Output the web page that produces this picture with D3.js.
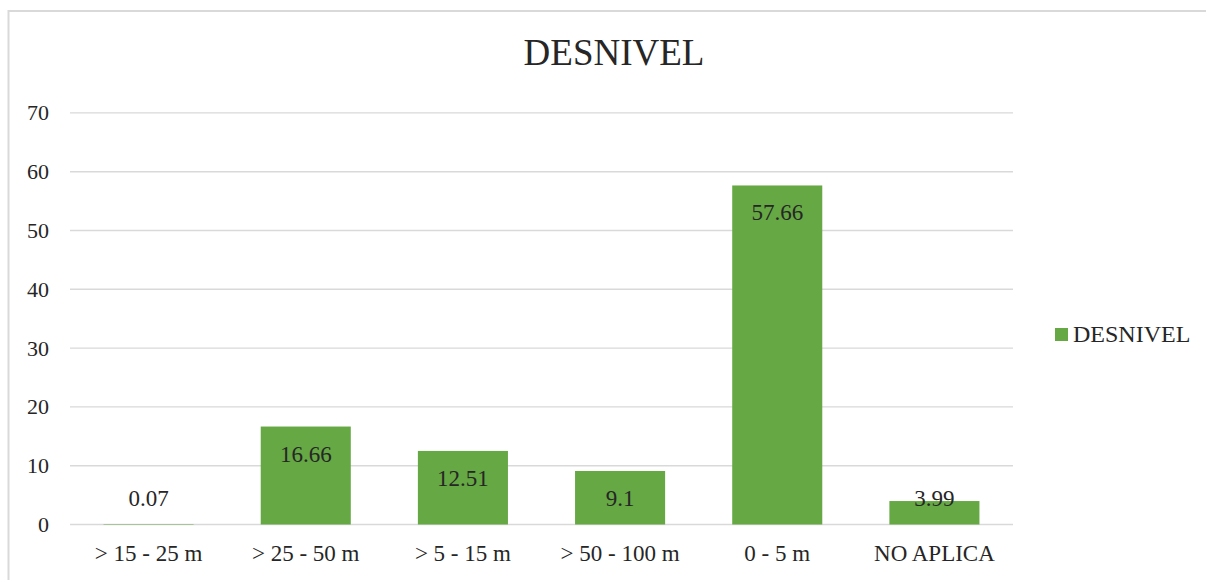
<!DOCTYPE html>
<html>
<head>
<meta charset="utf-8">
<script src="https://cdn.jsdelivr.net/npm/d3@7"></script>
<style>
  html, body { margin: 0; padding: 0; background: #fff; }
  svg { display: block; }
  text { font-family: "Liberation Serif", "DejaVu Serif", serif; fill: #262626; }
</style>
</head>
<body>
<svg id="chart" width="1206" height="580"></svg>
<script>
const title = "DESNIVEL";
const seriesName = "DESNIVEL";
const categories = ["> 15 - 25 m", "> 25 - 50 m", "> 5 - 15 m", "> 50 - 100 m", "0 - 5 m", "NO APLICA"];
const values = [0.07, 16.66, 12.51, 9.1, 57.66, 3.99];
const yTicks = [0, 10, 20, 30, 40, 50, 60, 70];

const svg = d3.select("#chart");
const W = 1206, H = 580;
const plot = { left: 70, right: 1013, top: 112.9, bottom: 524.5 };
const barColor = "#65a844";
const gridColor = "#d9d9d9";

// outer frame (top and left edges visible)
svg.append("line").attr("x1", 8.5).attr("x2", W).attr("y1", 11).attr("y2", 11)
  .attr("stroke", gridColor).attr("stroke-width", 2);
svg.append("line").attr("x1", 8.5).attr("x2", 8.5).attr("y1", 10).attr("y2", H)
  .attr("stroke", gridColor).attr("stroke-width", 2);

const x = d3.scaleBand().domain(categories).range([plot.left, plot.right])
  .paddingInner(0.427).paddingOuter(0.2135);
const y = d3.scaleLinear().domain([0, 70]).range([plot.bottom, plot.top]);

// gridlines
svg.append("g").selectAll("line").data(yTicks).join("line")
  .attr("x1", plot.left).attr("x2", plot.right)
  .attr("y1", d => y(d)).attr("y2", d => y(d))
  .attr("stroke", gridColor).attr("stroke-width", 1.4);

// y axis labels
const yAxis = d3.axisLeft(y).tickValues(yTicks).tickSize(0).tickPadding(21);
const gy = svg.append("g").attr("transform", `translate(${plot.left},0)`).call(yAxis);
gy.select(".domain").remove();
gy.selectAll("text").style("font-size", "22px").attr("fill", "#262626")
  .style("font-family", '"Liberation Serif", serif');

// bars
svg.append("g").selectAll("rect").data(values).join("rect")
  .attr("x", (d, i) => x(categories[i]))
  .attr("width", x.bandwidth())
  .attr("y", d => y(d))
  .attr("height", d => y(0) - y(d))
  .attr("fill", barColor);

// value labels (inside end, clamped near axis)
svg.append("g").selectAll("text").data(values).join("text")
  .attr("x", (d, i) => x(categories[i]) + x.bandwidth() / 2)
  .attr("y", d => Math.min(y(d) + 35, y(0) - 18.5))
  .attr("text-anchor", "middle")
  .style("font-size", "23px")
  .text(d => d);

// x axis labels
const xAxis = d3.axisBottom(x).tickSize(0).tickPadding(20);
const gx = svg.append("g").attr("transform", `translate(0,${plot.bottom})`).call(xAxis);
gx.select(".domain").remove();
gx.selectAll("text").style("font-size", "23px").attr("fill", "#262626")
  .style("font-family", '"Liberation Serif", serif');

// title
svg.append("text").attr("x", 614).attr("y", 65).attr("text-anchor", "middle")
  .style("font-size", "37px").text(title);

// legend
const lg = svg.append("g").attr("transform", "translate(1055,328)");
lg.append("rect").attr("width", 13).attr("height", 13).attr("fill", barColor);
lg.append("text").attr("x", 18).attr("y", 14).style("font-size", "24px").text(seriesName);
</script>
</body>
</html>
